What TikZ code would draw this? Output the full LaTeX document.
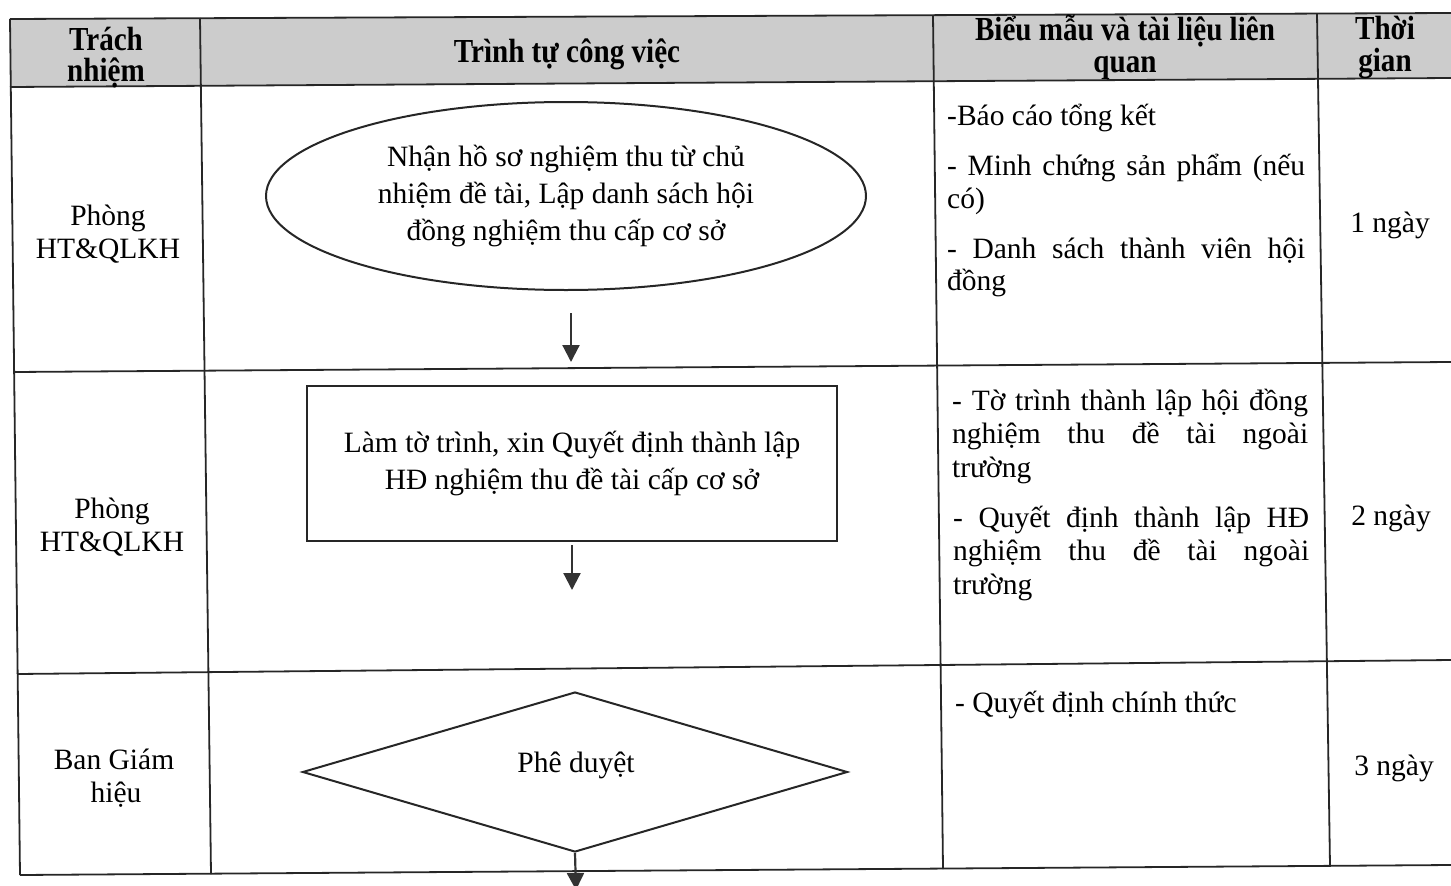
\documentclass[tikz,border=0pt]{standalone}
\usepackage{fontspec}
\setmainfont{Liberation Serif}
\usetikzlibrary{shapes.geometric,arrows.meta}
\newcommand{\tallhd}[1]{\scalebox{0.97}[1.12]{#1}}
\begin{document}
\begin{tikzpicture}[x=1pt,y=-1pt,
  tbl/.style={line width=1.8pt,draw=black!85},
  txt/.style={font=\fontsize{29.5}{35}\selectfont, inner sep=0pt, anchor=base},
  txtl/.style={txt, anchor=base west},
  hdr/.style={font=\bfseries\fontsize{30}{33}\selectfont, inner sep=0pt, anchor=base},
  shp/.style={draw=black!85, line width=2pt, inner sep=0pt, align=center, font=\fontsize{29.5}{37}\selectfont},
  arr/.style={draw=black!80, line width=2.2pt, -{Triangle[width=17pt,length=17pt]}, black!80}]
\useasboundingbox (0,0) rectangle (1451,886);
% header background
\fill[black!20] (10,19) -- (1451,13) -- (1451,78) -- (10,87) -- cycle;
% table lines
\draw[tbl] (10,19) -- (1451,13);
\draw[tbl] (10,87) -- (1451,78);
\draw[tbl] (14,372) -- (1451,362);
\draw[tbl] (17,674) -- (1451,660);
\draw[tbl] (20,875) -- (1451,865);
\draw[tbl] (10,19) -- (20,875);
\draw[tbl] (200,18) -- (211,874);
\draw[tbl] (933,15) -- (943,869);
\draw[tbl] (1317,14) -- (1330,866);
% header texts
\node[hdr] (h1a) at (106,50) {\tallhd{Trách}};
\node[hdr] (h1b) at (106,81) {\tallhd{nhiệm}};
\node[hdr] (h2) at (567,62) {\tallhd{Trình tự công việc}};
\node[hdr] (h3a) at (1125,40) {\tallhd{Biểu mẫu và tài liệu liên}};
\node[hdr] (h3b) at (1125,72) {\tallhd{quan}};
\node[hdr] (h4a) at (1385,39) {\tallhd{Thời}};
\node[hdr] (h4b) at (1385,71) {\tallhd{gian}};
% column 1
\node[txt] (c1a) at (108,225) {Phòng};
\node[txt] (c1b) at (108,258) {HT\&QLKH};
\node[txt] (c2a) at (112,518) {Phòng};
\node[txt] (c2b) at (112,551) {HT\&QLKH};
\node[txt] (c3a) at (114,769) {Ban Giám};
\node[txt] (c3b) at (116,802) {hiệu};
% shapes
\node[shp, ellipse, minimum width=600pt, minimum height=188pt] (e1) at (566,196)
  {Nhận hồ sơ nghiệm thu từ chủ\\nhiệm đề tài, Lập danh sách hội\\đồng nghiệm thu cấp cơ sở};
\node[shp, rectangle, minimum width=530pt, minimum height=155pt] (r1) at (572,463)
  {Làm tờ trình, xin Quyết định thành lập\\HĐ nghiệm thu đề tài cấp cơ sở};
\node[shp, diamond, minimum width=545pt, minimum height=160pt, aspect=3.4] (d1) at (575,772) {};
\node[txt] (d1t) at (576,772) {Phê duyệt};
% arrows
\coordinate (a1s) at (571,313);
\coordinate (a1e) at (571,362);
\coordinate (a2s) at (572,545);
\coordinate (a2e) at (572,590);
\coordinate (a3e) at (576,890);
\draw[arr] (a1s) -- (a1e);
\draw[arr] (a2s) -- (a2e);
\draw[arr] (d1.south) -- (a3e);
% column 3 row 1
\node[txtl] (b1) at (947,125) {-Báo cáo tổng kết};
\node[txtl] (b2) at (947,175) {\makebox[358pt][s]{- Minh chứng sản phẩm (nếu}};
\node[txtl] (b3) at (947,208) {có)};
\node[txtl] (b4) at (947,258) {\makebox[358pt][s]{- Danh sách thành viên hội}};
\node[txtl] (b5) at (947,290) {đồng};
% column 3 row 2
\node[txtl] (b6) at (952,410) {\makebox[356pt][s]{- Tờ trình thành lập hội đồng}};
\node[txtl] (b7) at (952,443) {\makebox[356pt][s]{nghiệm thu đề tài ngoài}};
\node[txtl] (b8) at (952,477) {trường};
\node[txtl] (b9) at (953,527) {\makebox[356pt][s]{- Quyết định thành lập HĐ}};
\node[txtl] (b10) at (953,560) {\makebox[356pt][s]{nghiệm thu đề tài ngoài}};
\node[txtl] (b11) at (953,594) {trường};
% column 3 row 3
\node[txtl] (b12) at (955,712) {- Quyết định chính thức};
% column 4
\node[txt] (t1) at (1390,232) {1 ngày};
\node[txt] (t2) at (1391,525) {2 ngày};
\node[txt] (t3) at (1394,775) {3 ngày};
\end{tikzpicture}
\end{document}
